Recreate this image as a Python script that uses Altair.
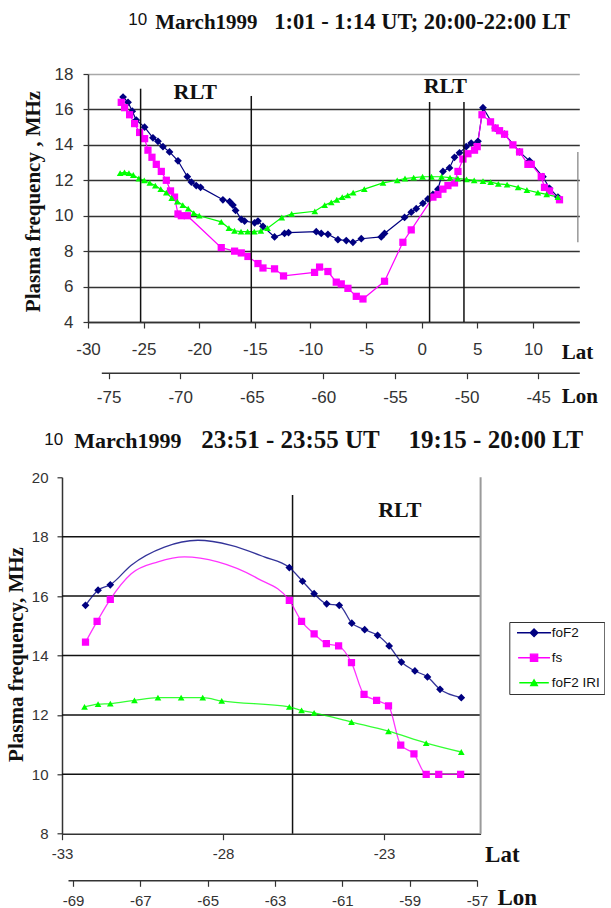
import altair as alt
import pandas as pd

SERIES = ["foF2", "fs", "foF2 IRI"]
COLORS = ["#000080", "#FF00FF", "#00FF00"]
SHAPES = ["diamond", "square", "triangle-up"]
# same marker shapes with a short line through them (the line only shows in the legend)
SHAPES_LEGEND = ["M-4.4,0H4.4M0,-1L1,0L0,1L-1,0Z",
                 "M-4.4,0H4.4M-1,-1H1V1H-1Z",
                 "M-4.4,0H4.4M0,-0.866L1,0.866L-1,0.866Z"]
MARKER_SIZES = [60, 45, 55]

SANS = "Liberation Sans"
SERIF = "Liberation Serif"
INK = "#111111"
AXC = "#333333"

# ---------------- top panel: 10 March 1999, 1:01 - 1:14 UT ----------------
top_lat_ticks = [-30, -25, -20, -15, -10, -5, 0, 5, 10]
top_lon_ticks = [-75, -70, -65, -60, -55, -50, -45]
top_mhz_ticks = [4, 6, 8, 10, 12, 14, 16, 18]

top_fof2_lat = [-26.85, -26.40, -26.02, -25.66, -24.91, -24.16, -23.71, -23.26, -22.67, -21.91,
                -21.07, -20.71, -20.27, -19.88, -17.87, -17.27, -16.97, -16.73, -16.22, -15.92,
                -15.02, -14.72, -14.27, -13.23, -12.33, -11.97, -9.48, -9.03, -8.43, -7.53,
                -6.78, -6.18, -5.43, -3.64, -3.34, -1.54, -0.94, -0.49, 0.11, 0.56,
                1.01, 1.46, 1.91, 2.50, 2.95, 3.40, 4.00, 4.45, 5.06, 5.51,
                6.61, 7.45, 8.80, 9.69, 10.90, 11.49, 12.25]
top_fof2_mhz = [16.7, 16.4, 15.9, 15.4, 15.0, 14.4, 14.2, 13.9, 13.6, 13.1,
                12.2, 11.9, 11.7, 11.6, 10.9, 10.8, 10.6, 10.3, 9.8, 9.7,
                9.6, 9.7, 9.4, 8.8, 9.0, 9.05, 9.1, 9.0, 8.95, 8.65,
                8.6, 8.5, 8.7, 8.8, 9.0, 9.9, 10.2, 10.4, 10.7, 10.95,
                11.2, 11.5, 12.5, 12.7, 13.3, 13.55, 13.9, 14.1, 14.2, 16.1,
                14.95, 14.6, 13.6, 13.1, 12.2, 11.55, 11.05]

top_fs_lat = [-27.01, -26.71, -26.26, -25.81, -25.36, -24.91, -24.61, -24.25, -23.86, -23.41,
              -22.96, -22.58, -22.22, -21.91, -21.61, -21.07, -18.02, -16.82, -16.22, -15.62,
              -14.72, -14.27, -13.23, -12.42, -9.63, -9.18, -8.43, -7.68, -7.23, -6.63,
              -5.88, -5.28, -3.34, -1.69, -0.94, 1.01, 1.46, 1.91, 2.36, 2.95,
              3.26, 3.71, 4.16, 4.75, 4.99, 5.42, 6.19, 6.61, 7.00, 7.45,
              8.20, 8.80, 9.55, 9.85, 10.75, 11.04, 11.49, 12.39]
top_fs_mhz = [16.4, 16.1, 15.7, 15.2, 14.7, 14.35, 13.7, 13.3, 12.9, 12.5,
              12.0, 11.4, 11.05, 10.1, 10.0, 10.0, 8.2, 8.0, 7.9, 7.7,
              7.3, 7.05, 7.0, 6.6, 6.8, 7.1, 6.85, 6.25, 6.15, 5.9,
              5.45, 5.3, 6.3, 8.5, 9.2, 11.05, 11.2, 11.5, 11.7, 11.85,
              12.5, 13.2, 13.5, 13.7, 13.9, 15.7, 15.3, 14.95, 14.8, 14.6,
              14.0, 13.6, 12.9, 12.9, 12.2, 11.6, 11.4, 10.9]

top_iri_lat = [-27.11, -26.72, -26.32, -25.93, -25.43, -24.94, -24.44, -23.95, -23.46, -22.96,
               -22.47, -21.97, -21.48, -20.99, -20.49, -20.00, -18.02, -17.33, -16.83, -16.24,
               -15.65, -15.05, -14.46, -13.86, -12.58, -11.69, -9.61, -8.72, -8.13, -7.63,
               -7.14, -6.65, -6.16, -5.16, -3.48, -2.20, -1.50, -0.72, 0.08, 0.88,
               1.78, 2.55, 3.25, 4.03, 4.72, 5.51, 6.20, 6.89, 7.68, 8.67,
               9.46, 10.45, 11.24, 12.24]
top_iri_mhz = [12.4, 12.45, 12.4, 12.3, 12.1, 12.0, 11.85, 11.7, 11.5, 11.3,
               11.0, 10.8, 10.6, 10.4, 10.15, 10.0, 9.65, 9.3, 9.15, 9.1,
               9.1, 9.1, 9.15, 9.3, 9.9, 10.1, 10.25, 10.6, 10.75, 10.9,
               11.05, 11.15, 11.3, 11.5, 11.85, 12.0, 12.1, 12.15, 12.2, 12.2,
               12.2, 12.15, 12.1, 12.05, 12.0, 11.95, 11.9, 11.8, 11.75, 11.6,
               11.45, 11.3, 11.2, 11.05]

top_rlt_lat = [-25.27, -15.32, 0.71, 3.80]
top_rlt_top = [17.17, 16.76, 16.42, 16.42]
top_rlt_bottom = [4, 4, 4, 4]
top_rlt_label_lat = [-20.36, 2.12]
top_rlt_label_mhz = [16.96, 17.32]
top_edge_lat = [14.04]
top_edge_top = [13.6]
top_edge_bottom = [8.5]

# ---------------- bottom panel: 10 March 1999, 23:51 - 23:55 UT ----------------
bot_lat_ticks = [-33, -28, -23]
bot_lon_ticks = [-69, -67, -65, -63, -61, -59, -57]
bot_mhz_ticks = [8, 10, 12, 14, 16, 18, 20]
bot_grid_mhz = [10, 12, 14, 16, 18]

bot_fof2_lat = [-32.27, -31.88, -31.50, -25.94, -25.53, -25.17, -24.78, -24.39, -24.00,
                -23.60, -23.20, -22.84, -22.46, -22.04, -21.65, -21.26, -20.60]
bot_fof2_mhz = [15.69, 16.2, 16.38, 16.96, 16.5, 16.08, 15.74, 15.69, 15.09,
                14.87, 14.68, 14.32, 13.78, 13.48, 13.28, 12.86, 12.58]
bot_fof2_curve_lat = [-30.85, -29.82, -28.78, -27.75, -26.72]
bot_fof2_curve_mhz = [17.04, 17.65, 17.88, 17.71, 17.32]

bot_fs_lat = [-32.27, -31.91, -31.50, -25.94, -25.56, -25.17, -24.79, -24.41, -24.01,
              -23.62, -23.23, -22.86, -22.48, -22.07, -21.69, -21.30, -20.62]
bot_fs_mhz = [14.45, 15.15, 15.89, 15.86, 15.15, 14.73, 14.4, 14.32, 13.76,
              12.69, 12.49, 12.3, 10.98, 10.69, 10.0, 10.0, 10.0]
bot_fs_curve_lat = [-30.85, -30.02, -29.20, -28.16, -26.92]
bot_fs_curve_mhz = [16.75, 17.15, 17.32, 17.15, 16.59]

bot_iri_lat = [-32.30, -31.88, -31.50, -30.75, -30.02, -29.30, -28.63, -28.04,
               -25.94, -25.56, -25.17, -24.01, -22.86, -21.69, -20.60]
bot_iri_mhz = [12.27, 12.36, 12.38, 12.49, 12.58, 12.58, 12.58, 12.47,
               12.27, 12.15, 12.07, 11.76, 11.45, 11.05, 10.75]

bot_rlt_lat = [-25.84]
bot_rlt_top = [19.4]
bot_rlt_bottom = [8]
bot_rlt_label_lat = [-22.51]
bot_rlt_label_mhz = [18.9]
bot_frame_lat = [-20]
bot_frame_bottom = [8]
bot_frame_top = [20]


def frame(lat, mhz, name, marker=True):
    return pd.DataFrame({"lat": lat, "mhz": mhz, "series": name, "marker": marker})


color_scale = alt.Scale(domain=SERIES, range=COLORS)
shape_scale = alt.Scale(domain=SERIES, range=SHAPES)
shape_scale_bot = alt.Scale(domain=SERIES, range=SHAPES_LEGEND)
size_scale = alt.Scale(domain=SERIES, range=MARKER_SIZES)
LABEL = "datum.value + ''"


def text_layer(txt, x, y, font, size, weight="normal", align="left"):
    return alt.Chart(pd.DataFrame({"t": [txt]})).mark_text(
        font=font, fontSize=size, fontWeight=weight, color=INK, align=align, baseline="alphabetic"
    ).encode(text="t:N", x=alt.value(x), y=alt.value(y))


# ===================== TOP =====================
top_x = alt.X("lat:Q", scale=alt.Scale(domain=[-30, 14.17], nice=False, zero=False),
              axis=alt.Axis(values=top_lat_ticks, labelExpr=LABEL, labelFlush=False, labelOverlap=False,
                            labelFont=SANS, labelFontSize=17, labelColor=AXC, labelPadding=13,
                            tickSize=6, tickColor=AXC, tickWidth=1.2, domainColor=AXC, domainWidth=1.5,
                            grid=False, title="Lat", titleX=473.3, titleY=36, titleAngle=0,
                            titleAlign="left", titleBaseline="alphabetic", titleFont=SERIF,
                            titleFontSize=21, titleFontWeight="bold", titleColor=INK))
top_y = alt.Y("mhz:Q", scale=alt.Scale(domain=[4, 18], nice=False, zero=False),
              axis=alt.Axis(values=top_mhz_ticks, labelExpr=LABEL, labelFlush=False, labelOverlap=False,
                            labelFont=SANS, labelFontSize=17, labelColor=AXC, labelPadding=10,
                            tickSize=5, tickColor=AXC, tickWidth=1.2, domainColor=AXC, domainWidth=1.5,
                            grid=True,
                            gridColor={"condition": {"test": "datum.value === 18", "value": "#a8a8a8"},
                                       "value": "#333333"},
                            gridWidth=1.7,
                            title="Plasma frequency , MHz", titleX=-54.7, titleY=127, titleAngle=270,
                            titleAlign="center", titleBaseline="middle", titleFont=SERIF,
                            titleFontSize=21, titleFontWeight="bold", titleColor=INK))

top_data = pd.concat([frame(top_fof2_lat, top_fof2_mhz, "foF2"),
                      frame(top_fs_lat, top_fs_mhz, "fs"),
                      frame(top_iri_lat, top_iri_mhz, "foF2 IRI")], ignore_index=True)

top_lines = alt.Chart(top_data).mark_line(strokeWidth=1.2).encode(
    x=top_x, y=top_y, color=alt.Color("series:N", scale=color_scale, legend=None))
top_points = alt.Chart(top_data).mark_point(filled=True, opacity=1).encode(
    x=top_x, y=top_y,
    color=alt.Color("series:N", scale=color_scale, legend=None),
    shape=alt.Shape("series:N", scale=shape_scale, legend=None),
    size=alt.Size("series:N", scale=size_scale, legend=None))
top_rlt_rules = alt.Chart(pd.DataFrame({"lat": top_rlt_lat, "mhz": top_rlt_top, "mhz2": top_rlt_bottom})
                          ).mark_rule(color=INK, strokeWidth=1.5).encode(x=top_x, y=top_y, y2="mhz2:Q")
top_edge = alt.Chart(pd.DataFrame({"lat": top_edge_lat, "mhz": top_edge_top, "mhz2": top_edge_bottom})
                     ).mark_rule(color="#888888", strokeWidth=1.3).encode(x=top_x, y=top_y, y2="mhz2:Q")
top_rlt_text = alt.Chart(pd.DataFrame({"lat": top_rlt_label_lat, "mhz": top_rlt_label_mhz, "t": ["RLT", "RLT"]})
                         ).mark_text(font=SERIF, fontSize=22, fontWeight="bold", color=INK,
                                     align="center", baseline="middle").encode(x=top_x, y=top_y, text="t:N")
top_lon = alt.Chart(pd.DataFrame({"lon": top_lon_ticks})).mark_point(opacity=0).encode(
    x=alt.X("lon:Q", scale=alt.Scale(domain=[-75.51, -42.13], range=[13.3, 491.3], nice=False, zero=False),
            axis=alt.Axis(orient="bottom", offset=50.7, values=top_lon_ticks, labelExpr=LABEL,
                          labelFlush=False, labelOverlap=False, labelFont=SANS, labelFontSize=17,
                          labelColor=AXC, labelPadding=11, tickSize=6, tickColor=AXC, tickWidth=1.2,
                          domainColor=AXC, domainWidth=1.5, grid=False, title="Lon", titleX=473.3,
                          titleY=29.3, titleAngle=0, titleAlign="left", titleBaseline="alphabetic",
                          titleFont=SERIF, titleFontSize=21, titleFontWeight="bold", titleColor=INK)))

top_inner = alt.layer(
    top_lines, top_points, top_rlt_rules, top_edge, top_rlt_text,
    text_layer("10", 40.3, -49, SANS, 17),
    text_layer("March1999", 67.3, -45.5, SERIF, 21, "bold"),
    text_layer("1:01 - 1:14 UT; 20:00-22:00 LT", 186.3, -45.5, SERIF, 22.5, "bold"),
)
top = alt.layer(top_inner, top_lon).resolve_scale(x="independent").properties(width=491.3, height=248)

# ===================== BOTTOM =====================
bot_x = alt.X("lat:Q", scale=alt.Scale(domain=[-33, -20], range=[-26, 392.6], nice=False, zero=False),
              axis=alt.Axis(values=bot_lat_ticks, labelExpr=LABEL, labelFlush=False, labelOverlap=False,
                            labelFont=SANS, labelFontSize=15, labelColor=AXC, labelPadding=7,
                            tickSize=6, tickColor=AXC, tickWidth=1.2, domainColor=AXC, domainWidth=1.5,
                            grid=False, title="Lat", titleX=396.6, titleY=28.3, titleAngle=0,
                            titleAlign="left", titleBaseline="alphabetic", titleFont=SERIF,
                            titleFontSize=23, titleFontWeight="bold", titleColor=INK))
bot_y = alt.Y("mhz:Q", scale=alt.Scale(domain=[8, 20], nice=False, zero=False),
              axis=alt.Axis(values=bot_mhz_ticks, offset=26, labelExpr=LABEL, labelFlush=False,
                            labelOverlap=False, labelFont=SANS, labelFontSize=15, labelColor=AXC,
                            labelPadding=9, tickSize=5, tickColor=AXC, tickWidth=1.2, domainColor=AXC,
                            domainWidth=1.5, grid=False,
                            title="Plasma frequency, MHz", titleX=-45.7, titleY=176.7, titleAngle=270,
                            titleAlign="center", titleBaseline="middle", titleFont=SERIF,
                            titleFontSize=21, titleFontWeight="bold", titleColor=INK))

bot_data = pd.concat([frame(bot_fof2_lat, bot_fof2_mhz, "foF2"),
                      frame(bot_fof2_curve_lat, bot_fof2_curve_mhz, "foF2", False),
                      frame(bot_fs_lat, bot_fs_mhz, "fs"),
                      frame(bot_fs_curve_lat, bot_fs_curve_mhz, "fs", False),
                      frame(bot_iri_lat, bot_iri_mhz, "foF2 IRI")], ignore_index=True)

legend = alt.Legend(title=None, orient="none", legendX=421.3, legendY=144.7, strokeColor=AXC,
                    fillColor="white", padding=4, rowPadding=10, labelFont=SANS, labelFontSize=13.5,
                    labelColor=INK, symbolSize=60, symbolOffset=14, labelOffset=11,
                    symbolStrokeWidth=1.3)

bot_grid = alt.Chart(pd.DataFrame({"lat": -33, "lat1": -20, "mhz": bot_grid_mhz})).mark_rule(
    color=INK, strokeWidth=1.5).encode(x=bot_x, x2="lat1:Q", y=bot_y)
bot_frame = alt.Chart(pd.DataFrame({"lat": bot_frame_lat, "mhz": bot_frame_bottom, "mhz2": bot_frame_top})
                      ).mark_rule(color="#9a9a9a", strokeWidth=2).encode(x=bot_x, y=bot_y, y2="mhz2:Q")
bot_rlt_rule = alt.Chart(pd.DataFrame({"lat": bot_rlt_lat, "mhz": bot_rlt_top, "mhz2": bot_rlt_bottom})
                         ).mark_rule(color=INK, strokeWidth=1.5).encode(x=bot_x, y=bot_y, y2="mhz2:Q")
bot_lines = alt.Chart(bot_data).mark_line(strokeWidth=1.3, interpolate="monotone", strokeOpacity=0.8).encode(
    x=bot_x, y=bot_y, color=alt.Color("series:N", scale=color_scale, legend=legend))
bot_points = alt.Chart(bot_data).transform_filter("datum.marker").mark_point(filled=True, opacity=1).encode(
    x=bot_x, y=bot_y,
    color=alt.Color("series:N", scale=color_scale, legend=legend),
    shape=alt.Shape("series:N", scale=shape_scale_bot, legend=legend),
    size=alt.Size("series:N", scale=size_scale, legend=None))
bot_rlt_text = alt.Chart(pd.DataFrame({"lat": bot_rlt_label_lat, "mhz": bot_rlt_label_mhz, "t": ["RLT"]})
                         ).mark_text(font=SERIF, fontSize=22, fontWeight="bold", color=INK,
                                     align="center", baseline="middle").encode(x=bot_x, y=bot_y, text="t:N")
bot_lon = alt.Chart(pd.DataFrame({"lon": bot_lon_ticks})).mark_point(opacity=0).encode(
    x=alt.X("lon:Q", scale=alt.Scale(domain=[-69.15, -57], range=[-20, 389], nice=False, zero=False),
            axis=alt.Axis(orient="bottom", offset=46.6, values=bot_lon_ticks, labelExpr=LABEL,
                          labelFlush=False, labelOverlap=False, labelFont=SANS, labelFontSize=15,
                          labelColor=AXC, labelPadding=7, tickSize=6, tickColor=AXC, tickWidth=1.2,
                          domainColor=AXC, domainWidth=1.5, grid=False, title="Lon", titleX=409,
                          titleY=23.7, titleAngle=0, titleAlign="left", titleBaseline="alphabetic",
                          titleFont=SERIF, titleFontSize=23, titleFontWeight="bold", titleColor=INK)))

bot_inner = alt.layer(
    bot_grid, bot_frame, bot_rlt_rule, bot_lines, bot_points, bot_rlt_text,
    text_layer("10", -43.7, -32.3, SANS, 17),
    text_layer("March1999", -13.7, -29.5, SERIF, 22, "bold"),
    text_layer("23:51 - 23:55 UT", 113.3, -29.5, SERIF, 25, "bold"),
    text_layer("19:15 - 20:00 LT", 495.3, -29.5, SERIF, 25, "bold", "right"),
)
bottom = alt.layer(bot_inner, bot_lon).resolve_scale(x="independent").properties(width=392.6, height=356.4)

chart = alt.vconcat(top, bottom, spacing=155.3, bounds="flush").resolve_scale(
    x="independent", y="independent", color="independent", shape="independent", size="independent"
).properties(
    padding={"left": 5, "top": 10, "right": 0, "bottom": 0},
    background="white",
).configure_view(stroke="transparent", strokeWidth=0)

chart.save("out.html", embed_options={"renderer": "svg", "actions": False})
